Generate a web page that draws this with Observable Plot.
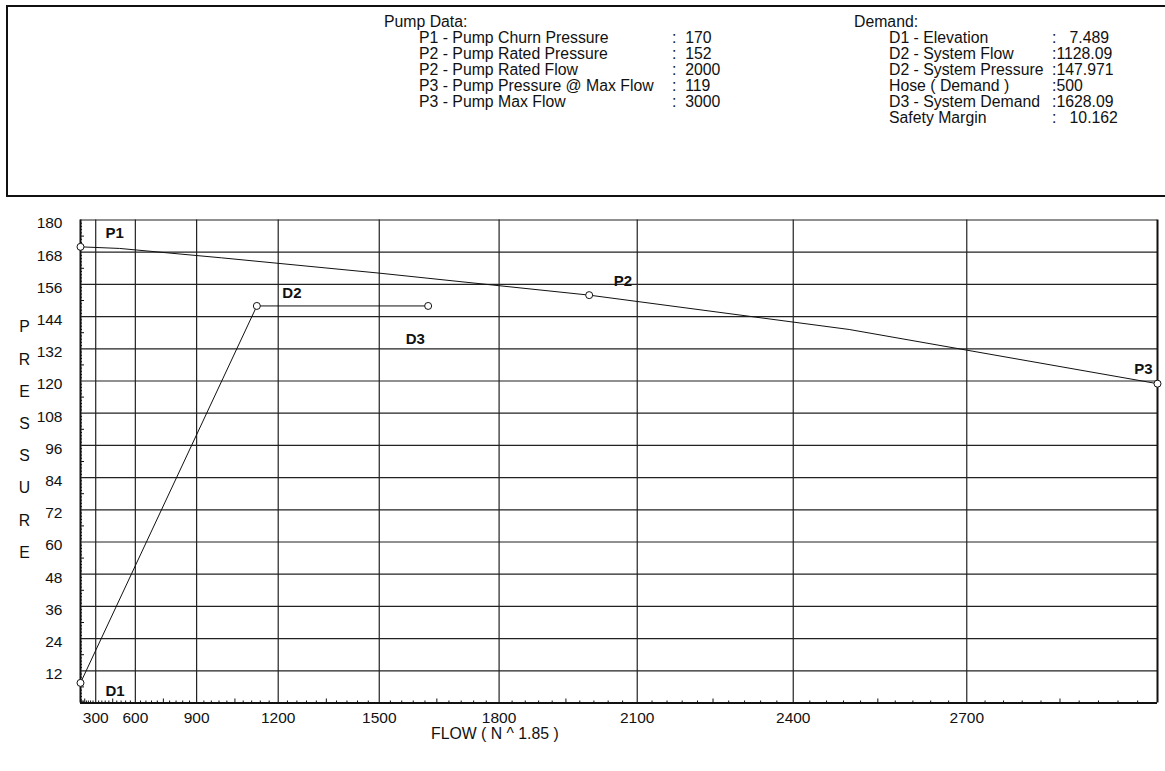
<!DOCTYPE html>
<html>
<head>
<meta charset="utf-8">
<script src="https://cdn.jsdelivr.net/npm/d3@7"></script>
<script src="https://cdn.jsdelivr.net/npm/@observablehq/plot@0.6"></script>
<style>
  html, body { margin: 0; padding: 0; background: #fff; }
  body { font-family: "Liberation Sans", Arial, Helvetica, sans-serif; color: #111; }
  #page { position: relative; width: 1165px; height: 771px; overflow: hidden; }
  #border { position: absolute; left: 6px; top: 5px; width: 1200px; height: 800px;
            border-left: 2px solid #111; border-top: 2px solid #111; }
  #divider { position: absolute; left: 6px; top: 195px; width: 1200px; height: 0;
             border-top: 2px solid #111; }
  .panel { position: absolute; top: 14px; font-size: 15.8px; line-height: 16px; white-space: pre; }
  .panel div { position: relative; height: 16px; }
  .panel span { position: absolute; top: 0; }
  #chart { position: absolute; left: 0; top: 197px; }
</style>
</head>
<body>
<div id="page">
  <div id="border"></div>
  <div id="divider"></div>
  <div class="panel" id="pump"></div>
  <div class="panel" id="demand"></div>
  <div id="chart"></div>
</div>
<script>
// Pump curve (flow in gpm, pressure in psi)
const pumpFlow = [0, 500, 1000, 1500, 2000, 2500, 3000];
const pumpPressure = [170, 169.4, 165.9, 160.2, 152, 139.2, 119];

// System demand curve: elevation -> system point -> system + hose
const demandFlow = [0, 1128.09, 1628.09];
const demandPressure = [7.489, 147.971, 147.971];

// Named points on the curves
const pointNames = ["P1", "P2", "P3", "D1", "D2", "D3"];
const pointFlow = [0, 2000, 3000, 0, 1128.09, 1628.09];
const pointPressure = [170, 152, 119, 7.489, 147.971, 147.971];

// Axis ticks
const xTicks = [300, 600, 900, 1200, 1500, 1800, 2100, 2400, 2700];
const yTicks = [12, 24, 36, 48, 60, 72, 84, 96, 108, 120, 132, 144, 156, 168, 180];
const xTitle = "FLOW ( N ^ 1.85 )";
const yTitle = "PRESSURE";

// Summary panels
const pumpTitle = "Pump Data:";
const pumpLabels = ["P1 - Pump Churn Pressure", "P2 - Pump Rated Pressure", "P2 - Pump Rated Flow",
                    "P3 - Pump Pressure @ Max Flow", "P3 - Pump Max Flow"];
const pumpValues = ["170", "152", "2000", "119", "3000"];
const demandTitle = "Demand:";
const demandLabels = ["D1 - Elevation", "D2 - System Flow", "D2 - System Pressure",
                      "Hose ( Demand )", "D3 - System Demand", "Safety Margin"];
const demandValues = ["7.489", "1128.09", "147.971", "500", "1628.09", "10.162"];

function panel(el, left, title, labels, values, indent, colon, pad) {
  el.style.left = left + "px";
  const head = document.createElement("div");
  head.textContent = title;
  el.appendChild(head);
  labels.forEach((lab, i) => {
    const row = document.createElement("div");
    const a = document.createElement("span");
    a.style.left = indent + "px";
    a.textContent = lab;
    const b = document.createElement("span");
    b.style.left = colon + "px";
    b.textContent = ":" + pad(values[i]);
    row.appendChild(a); row.appendChild(b);
    el.appendChild(row);
  });
}
panel(document.getElementById("pump"), 384, pumpTitle, pumpLabels, pumpValues, 35, 288, v => "  " + v);
panel(document.getElementById("demand"), 854, demandTitle, demandLabels, demandValues, 35, 198,
      v => (+v < 100 ? "   " + v : v));

const pump = pumpFlow.map((q, i) => ({q, p: pumpPressure[i]}));
const demand = demandFlow.map((q, i) => ({q, p: demandPressure[i]}));
const points = pointNames.map((name, i) => ({name, q: pointFlow[i], p: pointPressure[i]}));

const width = 1165, height = 574;
const mTop = 22.5, mBottom = 68.5, mLeft = 80, mRight = 8;
const innerH = height - mTop - mBottom;
const innerW = width - mLeft - mRight;

// minor ruler ticks: ten per major division, a longer one at the half
const xMinor = d3.range(30, 3000, 30).filter(v => v % 150 !== 0);
const xMid = d3.range(150, 3000, 300);
const yMinor = d3.range(1, 150).map(i => +(i * 1.2).toFixed(1)).filter(v => v < 180 && Math.abs(v / 6 - Math.round(v / 6)) > 1e-6);
const yMid = d3.range(6, 180, 12);

const labelOffsets = {
  P1: {dx: 25, dy: -14, textAnchor: "start"},
  P2: {dx: 24.5, dy: -14, textAnchor: "start"},
  P3: {dx: -5, dy: -14, textAnchor: "end"},
  D1: {dx: 25, dy: 8.5, textAnchor: "start"},
  D2: {dx: 25.5, dy: -13, textAnchor: "start"},
  D3: {dx: -22.5, dy: 33.5, textAnchor: "start"}
};

const chart = Plot.plot({
  width, height,
  marginTop: mTop, marginBottom: mBottom, marginLeft: mLeft, marginRight: mRight,
  style: {fontFamily: "'Liberation Sans', Arial, Helvetica, sans-serif", fontSize: "15.5px", color: "#111", background: "white"},
  x: {type: "pow", exponent: 1.85, domain: [0, 3000]},
  y: {domain: [0, 180]},
  marks: [
    // grid
    Plot.ruleX(xTicks, {stroke: "#222", strokeWidth: 1.2}),
    Plot.ruleY(yTicks, {stroke: "#222", strokeWidth: 1.2}),
    // ruler ticks along the axes
    Plot.tickX(xMinor, {x: d => d, insetTop: innerH - 2, stroke: "#111"}),
    Plot.tickX(xMid, {x: d => d, insetTop: innerH - 4, stroke: "#111"}),
    Plot.tickY(yMinor, {y: d => d, insetRight: innerW - 2, stroke: "#111"}),
    Plot.tickY(yMid, {y: d => d, insetRight: innerW - 4, stroke: "#111"}),
    // frame
    Plot.ruleX([0], {stroke: "#111", strokeWidth: 2}),
    Plot.ruleX([3000], {stroke: "#111", strokeWidth: 2}),
    Plot.ruleY([0], {stroke: "#111", strokeWidth: 2}),
    // axes
    Plot.axisX(xTicks, {tickSize: 0, tickPadding: 9, tickFormat: d => String(d), label: null, fill: "#111"}),
    Plot.axisY(yTicks, {tickSize: 0, tickPadding: 18, dy: 3.5, tickFormat: d => String(d), label: null, fill: "#111"}),
    Plot.text([xTitle], {x: 1790, frameAnchor: "bottom", dy: 36, fill: "#111", fontSize: 15.8}),
    Plot.text(yTitle.split(""), {y: (d, i) => 140 - 12 * i, frameAnchor: "left", textAnchor: "middle", dx: -56, fill: "#111", fontSize: 15.8}),
    // curves
    Plot.line(pump, {x: "q", y: "p", stroke: "#111", strokeWidth: 1}),
    Plot.line(demand, {x: "q", y: "p", stroke: "#111", strokeWidth: 1}),
    Plot.dot(points, {x: "q", y: "p", r: 3.5, stroke: "#111", fill: "white", strokeWidth: 1, clip: false}),
    ...points.map(pt => Plot.text([pt], {
      x: "q", y: "p", text: "name", fontWeight: "bold", fontSize: 15, fill: "#111",
      ...labelOffsets[pt.name]
    }))
  ]
});
document.getElementById("chart").appendChild(chart);
</script>
</body>
</html>
